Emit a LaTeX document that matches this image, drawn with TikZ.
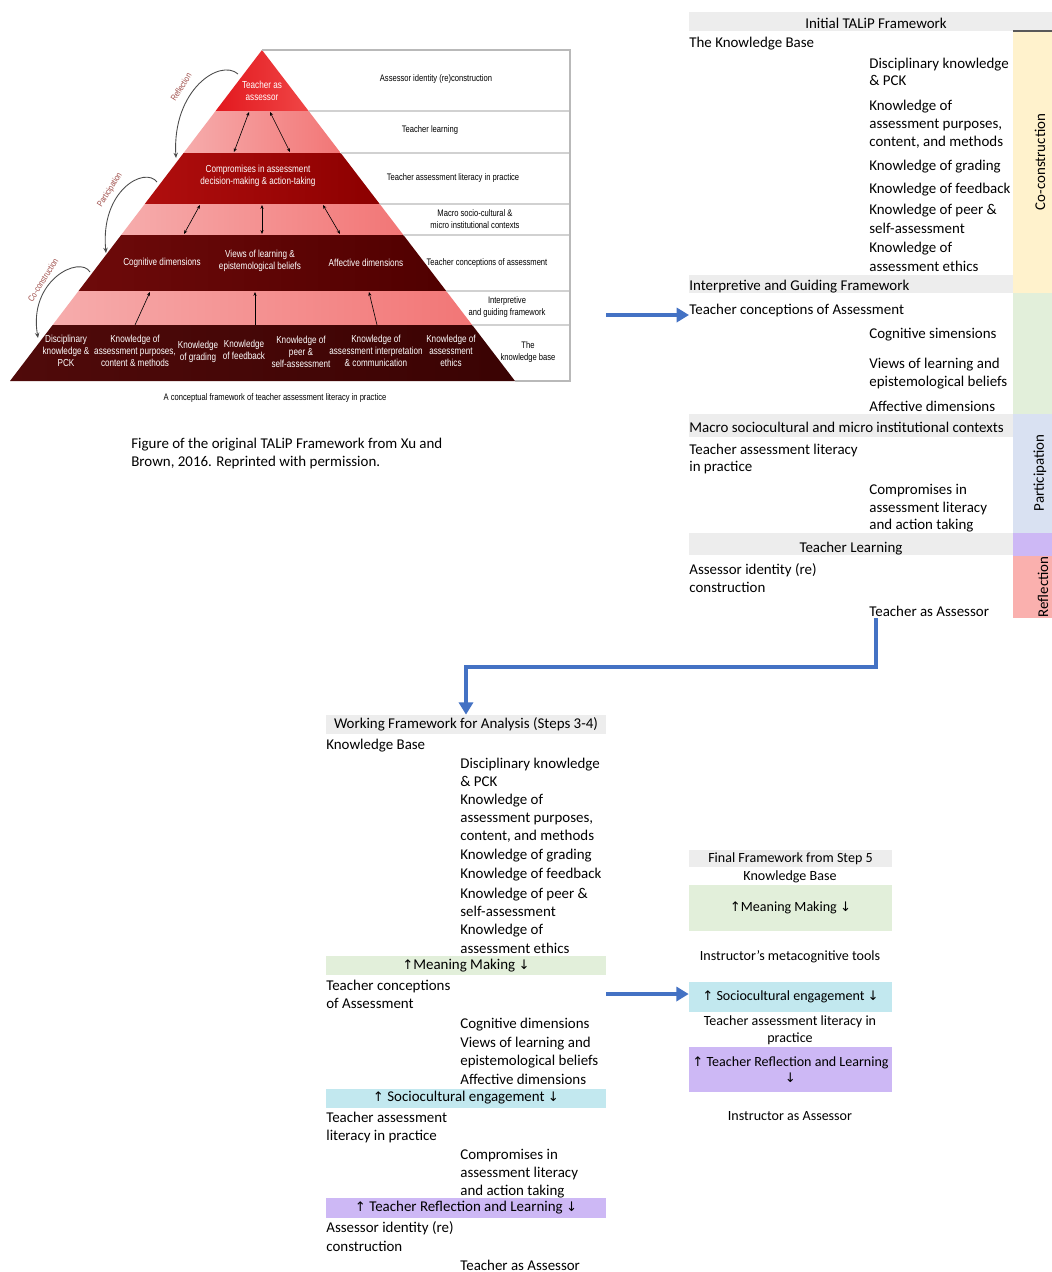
\documentclass[tikz,border=0pt]{standalone}
\usepackage{fontspec}
\setmainfont{Carlito}
\newfontfamily\pyrfont[FakeStretch=0.8]{Liberation Sans}
\newfontfamily\arrfont{DejaVu Sans}
\usetikzlibrary{arrows.meta, positioning, calc}

\definecolor{bandgray}{HTML}{EDEDED}
\definecolor{coconyellow}{HTML}{FFF2CC}
\definecolor{meangreen}{HTML}{E2EFDA}
\definecolor{partblue}{HTML}{D9E1F2}
\definecolor{reflpurple}{HTML}{CDB8F5}
\definecolor{reflred}{HTML}{FAB0AE}
\definecolor{socyan}{HTML}{C2E8EF}
\definecolor{arrblue}{HTML}{4472C4}
\definecolor{cyclab}{HTML}{A0504C}

\newcommand{\uarr}{{\arrfont\fontsize{7.5}{9}\selectfont ↑}}
\newcommand{\darr}{{\arrfont\fontsize{7.5}{9}\selectfont ↓}}

\begin{document}
\begin{tikzpicture}[x=0.02cm, y=-0.02cm,
    item/.style={anchor=west, inner sep=0pt, font=\fontsize{8.5}{10}\selectfont, text height=7.8pt, text depth=1.8pt},
    mid/.style={item, anchor=center},
    band/.style={inner sep=0pt, font=\fontsize{8.5}{10}\selectfont, align=center},
    fin/.style={inner sep=0pt, font=\fontsize{8}{9.4}\selectfont, align=center},
    ptxt/.style={text=white, font=\pyrfont\fontsize{5.8}{6.8}\selectfont, align=center, inner sep=0pt},
    plab/.style={font=\pyrfont\fontsize{5.4}{6.4}\selectfont, align=center, inner sep=0pt},
    cyc/.style={font=\pyrfont\fontsize{5}{6}\selectfont, text=cyclab, rotate=58, inner sep=0pt},
    cycarr/.style={gray!60!black, line width=0.5pt, -{Stealth[length=3pt,width=2.5pt]}},
    parr/.style={line width=0.35pt, {Stealth[length=2.2pt,width=1.8pt]}-{Stealth[length=2.2pt,width=1.8pt]}},
    uparr/.style={line width=0.35pt, -{Stealth[length=2.2pt,width=1.8pt]}},
    tbl/.style={gray!55, line width=0.6pt},
    bluearr/.style={arrblue, line width=2pt, -{Triangle[length=7pt,width=8pt]}},
    side/.style={font=\fontsize{8.5}{10}\selectfont, rotate=90, inner sep=0pt}]

\fill[white] (0,0) rectangle (1052,1272);
\useasboundingbox (0,0) rectangle (1052,1272);

% pyramid
\coordinate (apex) at (262,50);
\coordinate (bl) at (10,381);
\coordinate (br) at (515,381);
\foreach \n/\y in {1/111,2/153,3/204,4/235,5/291,6/325}{
  \coordinate (L\n) at ($(apex)!{(\y-50)/331}!(bl)$);
  \coordinate (R\n) at ($(apex)!{(\y-50)/331}!(br)$);
  \coordinate (T\n) at (570,\y);
}
\shade[left color={rgb,255:red,226;green,24;blue,30}, right color={rgb,255:red,240;green,70;blue,70}] (apex) -- (R1) -- (L1) -- cycle;
\shade[left color={rgb,255:red,246;green,172;blue,172}, right color={rgb,255:red,242;green,118;blue,118}] (L1) -- (R1) -- (R2) -- (L2) -- cycle;
\shade[left color={rgb,255:red,176;green,14;blue,14}, right color={rgb,255:red,140;green,0;blue,0}] (L2) -- (R2) -- (R3) -- (L3) -- cycle;
\shade[left color={rgb,255:red,246;green,172;blue,172}, right color={rgb,255:red,242;green,118;blue,118}] (L3) -- (R3) -- (R4) -- (L4) -- cycle;
\shade[left color={rgb,255:red,110;green,10;blue,10}, right color={rgb,255:red,80;green,0;blue,0}] (L4) -- (R4) -- (R5) -- (L5) -- cycle;
\shade[left color={rgb,255:red,246;green,172;blue,172}, right color={rgb,255:red,242;green,118;blue,118}] (L5) -- (R5) -- (R6) -- (L6) -- cycle;
\shade[left color={rgb,255:red,80;green,10;blue,10}, right color={rgb,255:red,58;green,3;blue,3}] (L6) -- (R6) -- (br) -- (bl) -- cycle;

\draw[tbl] (apex) -- (570,50) -- (570,381) -- (br);
\foreach \n in {1,...,6} \draw[tbl] (R\n) -- (T\n);

\node[ptxt] (ptas) at (262,91) {Teacher as\\assessor};
\node[ptxt] (pcom) at (258,176) {Compromises in assessment\\decision-making \& action-taking};
\node[ptxt] (pcog) at (162,263) {Cognitive dimensions};
\node[ptxt] (pvie) at (260,261) {Views of learning \&\\epistemological beliefs};
\node[ptxt] (paff) at (366,263) {Affective dimensions};
\node[ptxt] (pdis) at (66,351) {Disciplinary\\knowledge \&\\PCK};
\node[ptxt] (ppur) at (135,351) {Knowledge of\\assessment purposes,\\content \& methods};
\node[ptxt] (pgra) at (198,352) {Knowledge\\of grading};
\node[ptxt] (pfee) at (244,350) {Knowledge\\of feedback};
\node[ptxt] (ppee) at (301,352) {Knowledge of\\peer \&\\self-assessment};
\node[ptxt] (pint) at (376,351) {Knowledge of\\assessment interpretation\\\& communication};
\node[ptxt] (peth) at (451,351) {Knowledge of\\assessment\\ethics};

\draw[parr] (249,112) -- (234,152);
\draw[parr] (270,112) -- (290,152);
\draw[parr] (200,205) -- (184,234);
\draw[parr] (262,205) -- (262,234);
\draw[parr] (323,205) -- (340,234);
\draw[uparr] (135,325) -- (150,292);
\draw[uparr] (255,325) -- (255,292);
\draw[uparr] (377,325) -- (369,292);

\node[plab] (row1) at (436,79) {Assessor identity (re)construction};
\node[plab] (row2) at (430,130) {Teacher learning};
\node[plab] (row3) at (453,178) {Teacher assessment literacy in practice};
\node[plab] (row4) at (475,219) {Macro socio-cultural \&\\micro institutional contexts};
\node[plab] (row5) at (487,263) {Teacher conceptions of assessment};
\node[plab] (row6) at (507,307) {Interpretive\\and guiding framework};
\node[plab] (row7) at (528,352) {The\\knowledge base};

\draw[cycarr] (238,74) .. controls (220,58) and (172,90) .. (176,158);
\draw[cycarr] (157,182) .. controls (145,166) and (100,190) .. (106,253);
\draw[cycarr] (90,272) .. controls (80,255) and (28,280) .. (38,338);
\node[cyc] (cref) at (181,87) {Reflection};
\node[cyc] (cpar) at (110,190) {Participation};
\node[cyc] (ccon) at (43,280) {Co-construction};

\node[plab] (pcap) at (275,398) {A conceptual framework of teacher assessment literacy in practice};
\node[item] (fig1) at (131,443) {Figure of the original TALiP Framework from Xu and};
\node[item] (fig2) at (131,461) {Brown, 2016. Reprinted with permission.};

% initial framework
\fill[bandgray] (689,12) rectangle (1060,31);
\fill[bandgray] (689,275) rectangle (1013,293);
\fill[bandgray] (689,414) rectangle (1013,437);
\fill[bandgray] (689,533) rectangle (1013,555);
\fill[coconyellow] (1013,31) rectangle (1060,293);
\fill[meangreen] (1013,293) rectangle (1060,414);
\fill[partblue] (1013,414) rectangle (1060,533);
\fill[reflpurple] (1013,533) rectangle (1060,556);
\fill[reflred] (1013,556) rectangle (1060,618);
\draw[gray!70!black, line width=0.6pt] (1013,31) -- (1060,31);
\node[side] (sco) at (1040,162) {Co-construction};
\node[side] (spa) at (1040,473) {Participation};
\node[side] (sre) at (1043,587) {Reflection};

\node[mid] (ith) at (876,23) {Initial TALiP Framework};
\node[item] (itkb) at (689,42) {The Knowledge Base};
\foreach \y/\t [count=\i] in {63/Disciplinary knowledge, 80/\& PCK, 105/Knowledge of,
    123/{assessment purposes,}, 141/{content, and methods}, 165/Knowledge of grading,
    188/Knowledge of feedback, 209/Knowledge of peer \&, 228/self-assessment,
    247/Knowledge of, 266/assessment ethics}
  \node[item] (ikb\i) at (869,\y) {\t};
\node[item] (itig) at (689,285) {Interpretive and Guiding Framework};
\node[item] (itca) at (689,309) {Teacher conceptions of Assessment};
\foreach \y/\t [count=\i] in {333/Cognitive simensions, 363/Views of learning and,
    381/epistemological beliefs, 406/Affective dimensions}
  \node[item] (icd\i) at (869,\y) {\t};
\node[item] (itmc) at (689,427) {Macro sociocultural and micro institutional contexts};
\node[item] (ital1) at (689,449) {Teacher assessment literacy};
\node[item] (ital2) at (689,466) {in practice};
\foreach \y/\t [count=\i] in {489/Compromises in, 507/assessment literacy, 524/and action taking}
  \node[item] (icp\i) at (869,\y) {\t};
\node[mid] (itl) at (851,547) {Teacher Learning};
\node[item] (itai1) at (689,569) {Assessor identity (re)};
\node[item] (itai2) at (689,587) {construction};
\node[item] (itta) at (869,611) {Teacher as Assessor};

% working framework
\node[band, fill=bandgray, minimum width=5.6cm, minimum height=0.38cm] (wfh) at (466,724.5) {Working Framework for Analysis (Steps 3-4)};
\node[item] (wkb) at (326,744) {Knowledge Base};
\foreach \y/\t [count=\i] in {763/Disciplinary knowledge, 781/\& PCK, 799/Knowledge of,
    817/{assessment purposes,}, 835/{content, and methods}, 854/Knowledge of grading,
    873/Knowledge of feedback, 893/Knowledge of peer \&, 911/self-assessment,
    929/Knowledge of, 948/assessment ethics}
  \node[item] (wk\i) at (460,\y) {\t};
\node[band, fill=meangreen, minimum width=5.6cm, minimum height=0.38cm] (wmm) at (466,965.5) {\uarr Meaning Making \darr};
\node[item] (wtc1) at (326,985) {Teacher conceptions};
\node[item] (wtc2) at (326,1003) {of Assessment};
\foreach \y/\t [count=\i] in {1023/Cognitive dimensions, 1042/Views of learning and,
    1060/epistemological beliefs, 1079/Affective dimensions}
  \node[item] (wc\i) at (460,\y) {\t};
\node[band, fill=socyan, minimum width=5.6cm, minimum height=0.38cm] (wse) at (466,1098) {\uarr\ Sociocultural engagement \darr};
\node[item] (wtl1) at (326,1117) {Teacher assessment};
\node[item] (wtl2) at (326,1135) {literacy in practice};
\foreach \y/\t [count=\i] in {1154/Compromises in, 1172/assessment literacy, 1190/and action taking}
  \node[item] (wp\i) at (460,\y) {\t};
\node[band, fill=reflpurple, minimum width=5.6cm, minimum height=0.4cm] (wrl) at (466,1208) {\uarr\ Teacher Reflection and Learning \darr};
\node[item] (wai1) at (326,1227) {Assessor identity (re)};
\node[item] (wai2) at (326,1246) {construction};
\node[item] (wta) at (460,1265) {Teacher as Assessor};

% final framework
\node[fin, fill=bandgray, minimum width=4.06cm, minimum height=0.34cm] (fh) at (790.5,858.5) {Final Framework from Step 5};
\node[fin] (fkb) at (790,877) {Knowledge Base};
\node[fin, fill=meangreen, minimum width=4.06cm, minimum height=0.92cm] (fmm) at (790.5,908) {\uarr Meaning Making \darr};
\node[fin] (fmt) at (790,957) {Instructor's metacognitive tools};
\node[fin, fill=socyan, minimum width=4.06cm, minimum height=0.6cm] (fse) at (790.5,997) {\uarr\ Sociocultural engagement \darr};
\node[fin] (ftl) at (790,1030) {Teacher assessment literacy in\\practice};
\node[fin, fill=reflpurple, minimum width=4.06cm, minimum height=0.9cm] (frl) at (790.5,1069.5) {\uarr\ Teacher Reflection and Learning\\\darr};
\node[fin] (fia) at (790,1116) {Instructor as Assessor};

% blue arrows
\coordinate (a1s) at (606,315);
\coordinate (a2s) at (876,618);
\coordinate (a3s) at (606,994);
\draw[bluearr] (a1s) -- (a1s -| itca.west);
\draw[bluearr] (a2s) -- ++(0,49) -| (wfh.north);
\draw[bluearr] (a3s) -- (a3s -| fse.west);

\end{tikzpicture}
\end{document}
